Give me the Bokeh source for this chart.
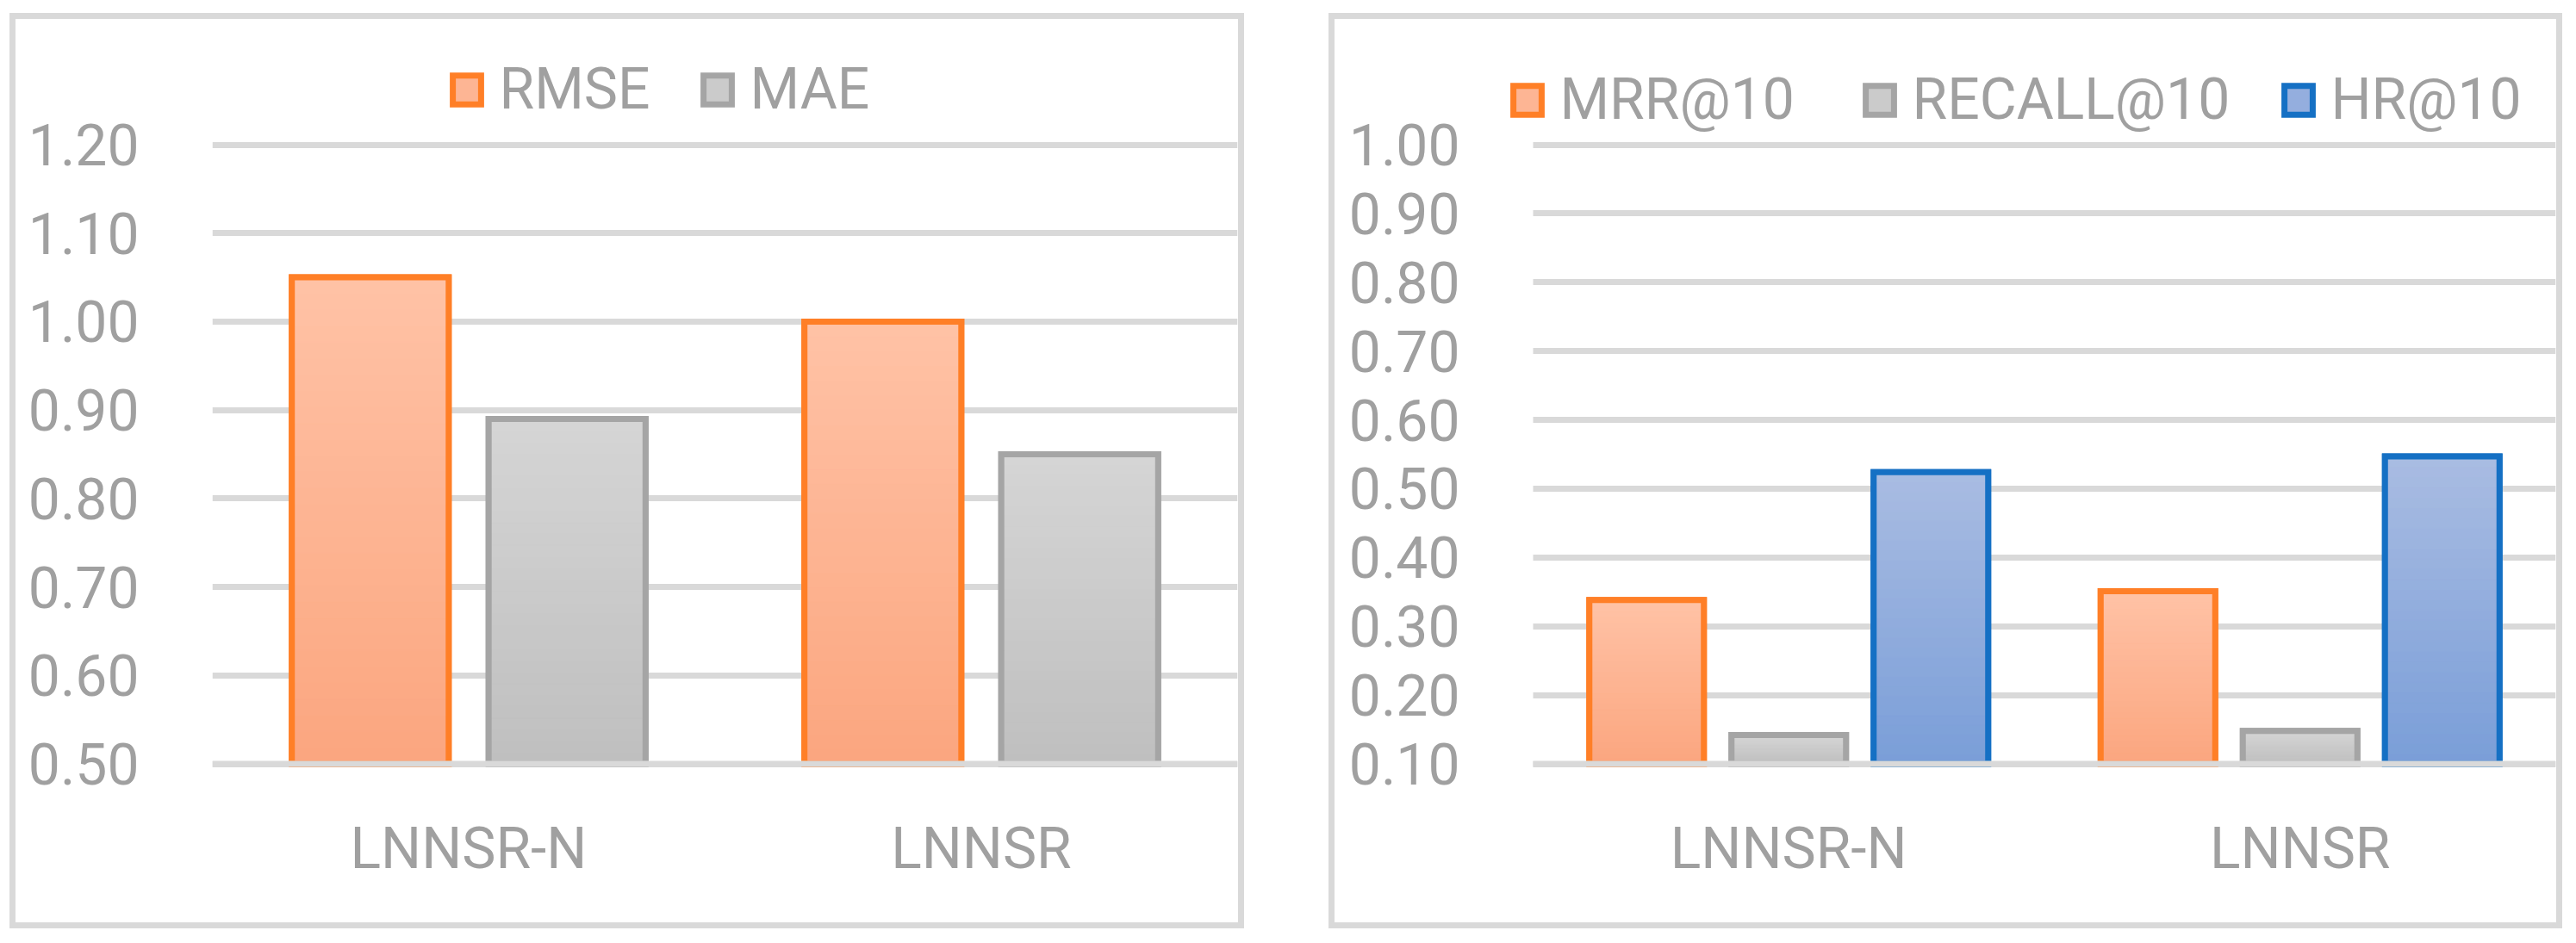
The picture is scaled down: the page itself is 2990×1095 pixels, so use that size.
from bokeh.plotting import figure
from bokeh.models import (Range1d, FixedTicker, PrintfTickFormatter,
                          Legend, LegendItem, ColumnDataSource)
from bokeh.transform import dodge
from bokeh.layouts import row
from bokeh.embed import file_html
from bokeh.resources import INLINE

# ---------------- data ----------------
methods = ["LNNSR-N", "LNNSR"]

rmse = [1.05, 1.00]
mae = [0.89, 0.85]
left_ticks = [0.50, 0.60, 0.70, 0.80, 0.90, 1.00, 1.10, 1.20]

mrr10 = [0.338, 0.351]
recall10 = [0.142, 0.148]
hr10 = [0.524, 0.547]
right_ticks = [0.10, 0.20, 0.30, 0.40, 0.50, 0.60, 0.70, 0.80, 0.90, 1.00]

# ---------------- style ----------------
FONT = "Roboto"
TXT = "#A0A0A0"
GRID = "#D9D9D9"
FS = "66px"
ORANGE = dict(line="#FF7F27", top="#FFC2A6", bot="#FBA67F")
GRAY = dict(line="#A5A5A5", top="#D5D5D5", bot="#BFBFBF")
BLUE = dict(line="#1570C4", top="#A9BCE2", bot="#7A9ED8")

# vertical geometry inside a panel (pixels from panel top)
FRAME_TOP = 10
GRID_TOP = 152.5
GRID_BOT = 871.5
FRAME_BOT = 879
PANEL_H = 1063
NSLICE = 30

NCAT = len(methods)
cat_pos = [i + 0.5 for i in range(NCAT)]


def yrange(lo, hi):
    ppu = (GRID_BOT - GRID_TOP) / (hi - lo)
    return Range1d(lo - (FRAME_BOT - GRID_BOT) / ppu, hi + (GRID_TOP - FRAME_TOP) / ppu)


def hex2rgb(h):
    h = h.lstrip("#")
    return [int(h[i:i + 2], 16) for i in (0, 2, 4)]


def mix(c1, c2, t):
    a, b = hex2rgb(c1), hex2rgb(c2)
    return "#%02x%02x%02x" % tuple(int(round(a[i] + (b[i] - a[i]) * t)) for i in range(3))


def make_fig(ticks, width, frame_left, grid_left, margin, ystandoff):
    # frame_left / grid_left: pixels from the panel's left edge
    frame_right = width - 8
    ppx = (frame_right - grid_left) / NCAT
    x0 = -(grid_left - frame_left) / ppx
    p = figure(x_range=Range1d(x0, NCAT), y_range=yrange(ticks[0], ticks[-1]),
               width=width, height=PANEL_H,
               min_border_left=frame_left, min_border_right=8,
               min_border_top=FRAME_TOP, min_border_bottom=PANEL_H - FRAME_BOT,
               output_backend="svg", toolbar_location=None, tools="",
               background_fill_color=None, border_fill_color=None,
               outline_line_color=None)
    p.margin = margin
    p.styles = {"box-shadow": "inset 0 0 0 7px " + GRID}
    p.xgrid.grid_line_color = None
    g = p.ygrid[0]
    g.grid_line_color = GRID
    g.grid_line_width = 7
    if "cross_bounds" in g.properties():
        g.cross_bounds = (0, NCAT)
    else:
        g.grid_line_color = None
        p.segment(x0=[0] * len(ticks), x1=[NCAT] * len(ticks), y0=ticks, y1=ticks,
                  line_color=GRID, line_width=7, level="underlay")
    p.yaxis.ticker = FixedTicker(ticks=ticks)
    p.yaxis.formatter = PrintfTickFormatter(format="%.2f")
    p.xaxis.ticker = FixedTicker(ticks=cat_pos)
    p.xaxis.major_label_overrides = {c: m for c, m in zip(cat_pos, methods)}
    for ax in (p.xaxis, p.yaxis):
        ax.axis_line_color = None
        ax.major_tick_line_color = None
        ax.minor_tick_line_color = None
        ax.major_label_text_font = FONT
        ax.major_label_text_font_size = FS
        ax.major_label_text_color = TXT
    p.xaxis.major_label_standoff = 46
    p.yaxis.major_label_standoff = ystandoff
    return p


def add_series(p, vals, base, off, w, pal, label, lx, ly):
    xd = dodge("x", off)
    osrc = ColumnDataSource(dict(x=cat_pos, top=vals))
    # base bar (also used for the legend swatch), covered by the gradient
    lr = p.vbar(x=xd, bottom=base, top="top", width=w, source=osrc,
                fill_color=mix(pal["bot"], pal["top"], 0.55),
                line_color=pal["line"], line_width=7, line_join="miter")
    xs, bots, tops, cols = [], [], [], []
    for c, v in zip(cat_pos, vals):
        for i in range(NSLICE):
            xs.append(c)
            bots.append(base + (v - base) * i / NSLICE)
            tops.append(base + (v - base) * (i + 1) / NSLICE)
            cols.append(mix(pal["bot"], pal["top"], (i + 0.5) / NSLICE))
    src = ColumnDataSource(dict(x=xs, bottom=bots, top=tops, color=cols))
    p.vbar(x=xd, bottom="bottom", top="top", width=w,
           source=src, fill_color="color", line_color="color", line_width=1)
    p.vbar(x=xd, bottom=base, top="top", width=w,
           source=osrc, fill_color=None, line_color=pal["line"], line_width=7,
           line_join="miter")
    leg = Legend(items=[LegendItem(label=label, renderers=[lr])],
                 location=(lx, ly), orientation="horizontal",
                 glyph_width=41, glyph_height=42, label_standoff=18,
                 padding=0, margin=0, border_line_color=None,
                 background_fill_alpha=0,
                 label_text_font=FONT, label_text_font_size=FS,
                 label_text_color=TXT)
    p.add_layout(leg)


def baseline(p, y):
    p.segment(x0=[0], x1=[NCAT], y0=[y], y1=[y], line_color=GRID, line_width=7)


# ---------------- left panel ----------------
p1 = make_fig(left_ticks, 1433, 235, 235, (15, 0, 0, 11), 79)
add_series(p1, rmse, left_ticks[0], -0.192, 0.306, ORANGE, "RMSE", 274.5, 752)
add_series(p1, mae, left_ticks[0], 0.192, 0.306, GRAY, "MAE", 565.5, 752)
baseline(p1, left_ticks[0])

# ---------------- right panel ----------------
p2 = make_fig(right_ticks, 1432, 198, 237, (15, 0, 0, 98), 40)
add_series(p2, mrr10, right_ticks[0], -0.278, 0.224, ORANGE, "MRR@10", 11.5, 740)
add_series(p2, recall10, right_ticks[0], 0.0, 0.224, GRAY, "RECALL@10", 420.5, 740)
add_series(p2, hr10, right_ticks[0], 0.278, 0.224, BLUE, "HR@10", 906.5, 740)
baseline(p2, right_ticks[0])

layout = row(p1, p2)
open("out.html", "w").write(file_html(layout, INLINE))
